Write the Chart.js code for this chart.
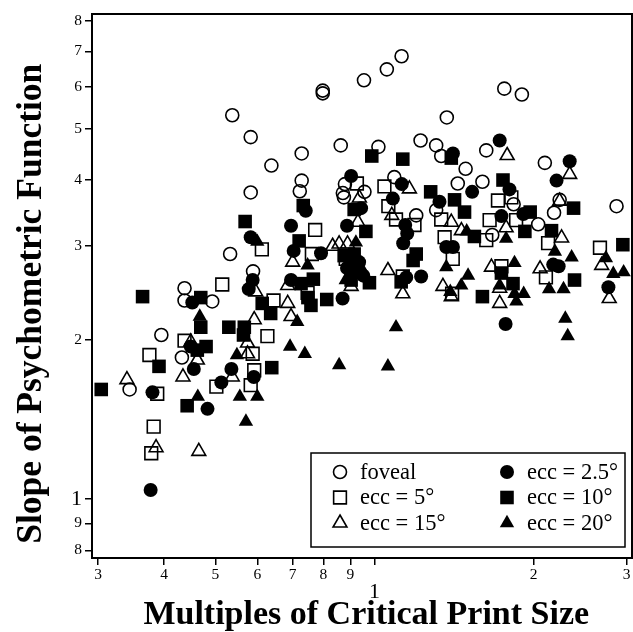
<!DOCTYPE html>
<html>
<head>
<meta charset="utf-8">
<script src="https://cdn.jsdelivr.net/npm/chart.js@4.4.0/dist/chart.umd.min.js"></script>
<style>
  html, body { margin: 0; padding: 0; background: #fff; }
  #wrap { width: 633px; height: 632px; position: relative; }
</style>
</head>
<body>
<div id="wrap"><canvas id="slopeChart"></canvas></div>
<script>
// [multiples of critical print size, slope of psychometric function]
const foveal = [
  [1.125,6.85],[1.055,6.47],[0.955,6.17],[0.798,5.9],[0.798,5.83],[0.538,5.3],[1.37,5.25],[1.76,5.95],
  [1.90,5.8],[0.583,4.82],[0.863,4.65],[1.017,4.62],[1.222,4.75],[1.308,4.65],[1.337,4.44],[0.728,4.49],
  [1.627,4.55],[1.487,4.2],[2.10,4.31],[0.638,4.26],[0.728,3.99],[0.722,3.81],[0.583,3.79],[0.879,3.93],
  [0.871,3.78],[0.875,3.71],[0.957,3.8],[1.09,4.05],[1.437,3.94],[1.60,3.97],[1.199,3.43],[1.308,3.51],
  [1.67,3.15],[1.833,3.6],[2.24,3.67],[2.186,3.47],[2.04,3.3],[2.87,3.57],[0.533,2.9],[0.589,2.69],
  [0.437,2.5],[0.437,2.37],[0.493,2.36],[0.395,2.04],[0.432,1.85],[0.344,1.61]
]
const ecc5 = [
  [0.926,3.94],[1.044,3.89],[1.062,3.57],[1.098,3.37],[1.19,3.29],[1.337,3.37],[1.357,3.12],[1.406,2.84],
  [1.712,3.66],[1.815,3.71],[1.651,3.36],[1.853,3.36],[1.627,3.08],[2.13,3.04],[2.67,2.98],[1.738,2.75],
  [2.11,2.62],[0.772,3.22],[0.612,2.96],[0.761,2.9],[1.131,2.63],[0.515,2.54],[0.644,2.37],[0.627,2.03],
  [0.588,1.88],[0.592,1.75],[0.583,1.64],[0.437,1.99],[0.375,1.87],[0.502,1.63],[0.388,1.58],[0.382,1.37],
  [0.378,1.22],[0.882,2.84],[1.402,2.44],[0.747,2.45]
]
const ecc15 = [
  [1.164,3.85],[0.936,3.7],[0.93,3.33],[1.078,3.43],[1.397,3.33],[1.46,3.21],[1.782,4.45],[2.34,4.1],
  [2.24,3.65],[1.774,3.25],[2.259,3.11],[2.057,2.72],[1.664,2.74],[1.725,2.5],[1.725,2.34],[2.69,2.76],
  [2.78,2.39],[1.347,2.52],[1.397,2.41],[1.06,2.7],[1.131,2.44],[0.903,2.52],[0.833,3.0],[0.857,3.03],
  [0.889,3.03],[0.7,2.8],[0.685,2.53],[0.685,2.34],[0.695,2.21],[0.596,2.46],[0.592,2.18],[0.575,1.97],
  [0.575,1.88],[0.449,1.98],[0.462,1.83],[0.434,1.7],[0.538,1.7],[0.34,1.68],[0.386,1.25],[0.465,1.23]
]
const ecc25 = [
  [0.903,4.07],[1.126,3.93],[1.083,3.69],[1.327,3.64],[0.943,3.54],[0.741,3.5],[0.695,3.28],[0.887,3.28],
  [1.143,3.29],[1.153,3.17],[1.133,3.04],[0.583,3.12],[0.703,2.94],[0.792,2.91],[1.367,2.99],[1.407,2.99],
  [1.407,4.49],[1.725,4.75],[1.53,3.8],[1.8,3.84],[1.738,3.42],[1.912,3.45],[2.21,3.99],[2.34,4.34],
  [2.178,2.77],[2.23,2.75],[2.77,2.51],[1.77,2.14],[1.225,2.63],[1.148,2.62],[0.87,2.39],[0.695,2.59],
  [0.588,2.59],[0.578,2.49],[0.452,2.35],[0.449,1.94],[0.455,1.76],[0.536,1.76],[0.591,1.7],[0.513,1.66],
  [0.38,1.59],[0.483,1.48],[0.377,1.04],[0.903,2.87],[0.887,2.73],[0.935,2.8],[0.952,2.64]
]
const ecc10 = [
  [0.988,4.44],[1.131,4.38],[1.397,4.4],[1.277,3.8],[1.417,3.67],[1.75,4.0],[1.97,3.48],[1.925,3.2],
  [2.38,3.54],[2.162,3.21],[1.48,3.48],[1.545,3.13],[0.733,3.58],[0.915,3.52],[0.963,3.2],[0.569,3.34],
  [0.72,3.07],[0.876,2.88],[0.915,2.9],[1.199,2.9],[1.183,2.82],[1.123,2.57],[0.978,2.56],[0.812,2.38],
  [0.766,2.6],[0.726,2.55],[0.748,2.4],[0.758,2.32],[0.613,2.34],[0.636,2.24],[0.639,1.77],[0.565,2.04],
  [0.567,2.11],[0.53,2.11],[0.469,2.11],[0.48,1.94],[0.462,1.91],[0.469,2.4],[0.391,1.78],[0.364,2.41],
  [0.304,1.61],[0.442,1.5],[1.6,2.41],[1.738,2.67],[1.828,2.55],[2.39,2.59],[2.95,3.02],[0.903,2.59],
  [0.911,2.8],[0.925,2.68]
]
const ecc20 = [
  [0.6,3.06],[0.747,2.76],[0.922,3.05],[1.494,3.2],[1.367,2.74],[1.503,2.64],[1.459,2.53],[1.391,2.46],
  [1.774,3.1],[1.84,2.79],[1.725,2.53],[1.84,2.44],[1.915,2.44],[1.855,2.36],[2.194,2.93],[2.36,2.86],
  [2.139,2.49],[2.278,2.49],[2.74,2.85],[2.83,2.66],[2.96,2.68],[2.296,2.19],[2.32,2.03],[1.098,2.11],
  [0.692,1.94],[0.738,1.88],[0.857,1.79],[1.06,1.78],[0.714,2.16],[0.549,1.87],[0.467,2.21],[0.463,1.56],
  [0.556,1.56],[0.6,1.56],[0.571,1.4],[0.882,2.59],[0.943,2.73]
]
const xTicks = [0.3, 0.4, 0.5, 0.6, 0.7, 0.8, 0.9, 1, 2, 3]
const yTicks = [0.8, 0.9, 1, 2, 3, 4, 5, 6, 7, 8]

const serif = "'Liberation Serif', 'DejaVu Serif', serif"

function pts(arr) {
    return arr.map(p => ({ x: p[0], y: p[1] }))
}
function series(label, data, style, open, radius) {
    return {
        label: label,
        data: pts(data),
        pointStyle: style,
        pointRadius: radius,
        pointBorderWidth: open ? 1.6 : 0,
        pointBorderColor: '#000',
        pointBackgroundColor: open ? 'rgba(0,0,0,0)' : '#000',
        showLine: false
    }
}
function tickLabel(v) {
    if (v < 1) return String(Math.round(v * 10))
    return String(Math.round(v))
}

// legend drawn as a boxed panel inside the plot area
const boxLegend = {
    id: 'boxLegend',
    afterDatasetsDraw(chart) {
        const ctx = chart.ctx
        const order = [0, 3, 1, 4, 2, 5]
        const bx = 311, by = 453, bw = 314, bh = 94
        ctx.save()
        ctx.fillStyle = '#fff'
        ctx.fillRect(bx, by, bw, bh)
        ctx.strokeStyle = '#000'
        ctx.lineWidth = 1.5
        ctx.strokeRect(bx, by, bw, bh)
        ctx.font = '22.5px ' + serif
        ctx.textBaseline = 'middle'
        order.forEach((di, k) => {
            const ds = chart.data.datasets[di]
            const col = k % 2, row = Math.floor(k / 2)
            const mx = col === 0 ? 340 : 507
            const my = 472 + row * 25.5
            ctx.fillStyle = ds.pointBackgroundColor
            ctx.strokeStyle = '#000'
            ctx.lineWidth = ds.pointBorderWidth
            Chart.helpers.drawPoint(ctx, {
                pointStyle: ds.pointStyle, radius: ds.pointRadius,
                rotation: 0, borderWidth: ds.pointBorderWidth
            }, mx, my)
            ctx.fillStyle = '#000'
            ctx.fillText(ds.label, mx + 20, my + 1)
        })
        ctx.restore()
    }
}
const frame = {
    id: 'frame',
    beforeDatasetsDraw(chart) {
        const a = chart.chartArea
        const ctx = chart.ctx
        ctx.save()
        ctx.strokeStyle = '#000'
        ctx.lineWidth = 2
        ctx.strokeRect(a.left, a.top, a.right - a.left, a.bottom - a.top)
        ctx.restore()
    }
}

const canvas = document.getElementById('slopeChart')
new Chart(canvas, {
    type: 'scatter',
    data: {
        datasets: [
            series('foveal', foveal, 'circle', true, 6.5),
            series('ecc = 5°', ecc5, 'rect', true, 9),
            series('ecc = 15°', ecc15, 'triangle', true, 8),
            series('ecc = 2.5°', ecc25, 'circle', false, 7),
            series('ecc = 10°', ecc10, 'rect', false, 9.6),
            series('ecc = 20°', ecc20, 'triangle', false, 8.3)
        ]
    },
    options: {
        responsive: true,
        maintainAspectRatio: false,
        animation: false,
        events: [],
        layout: { autoPadding: false, padding: { top: 14, right: 1, left: 0, bottom: 0 } },
        plugins: {
            legend: { display: false },
            tooltip: { enabled: false }
        },
        scales: {
            x: {
                type: 'logarithmic',
                min: 0.292, max: 3.07,
                afterBuildTicks: s => { s.ticks = xTicks.map(v => ({ value: v })) },
                afterFit: s => { s.height = 74; s.paddingLeft = 0; s.paddingRight = 0 },
                border: { display: true, color: '#000', width: 2 },
                grid: { drawOnChartArea: false, tickLength: 7, color: '#000', lineWidth: 1.5 },
                ticks: {
                    autoSkip: false, maxRotation: 0, color: '#000', padding: 1,
                    font: c => (c.tick && c.tick.value === 1)
                        ? { family: serif, size: 22, lineHeight: 0.8 }
                        : { family: serif, size: 15.5 },
                    callback: v => (v === 1 ? ['', '1'] : tickLabel(v))
                },
                title: {
                    display: true, text: ' Multiples of Critical Print Size', color: '#000',
                    font: { family: serif, size: 34, weight: 'bold', lineHeight: 1.0 },
                    padding: { top: -2, bottom: 0 }
                }
            },
            y: {
                type: 'logarithmic',
                min: 0.774, max: 8.23,
                afterBuildTicks: s => { s.ticks = yTicks.map(v => ({ value: v })) },
                afterFit: s => { s.width = 92; s.paddingTop = 0; s.paddingBottom = 0 },
                border: { display: true, color: '#000', width: 2 },
                grid: { drawOnChartArea: false, tickLength: 7, color: '#000', lineWidth: 1.5 },
                ticks: {
                    autoSkip: false, color: '#000', padding: 3,
                    font: c => (c.tick && c.tick.value === 1)
                        ? { family: serif, size: 22 }
                        : { family: serif, size: 15.5 },
                    callback: v => tickLabel(v)
                },
                title: {
                    display: true, text: 'Slope of Psychometric Function    ', color: '#000',
                    font: { family: serif, size: 35.5, weight: 'bold' },
                    padding: { top: 11, bottom: 0 }
                }
            }
        }
    },
    plugins: [frame, boxLegend]
})
</script>
</body>
</html>
